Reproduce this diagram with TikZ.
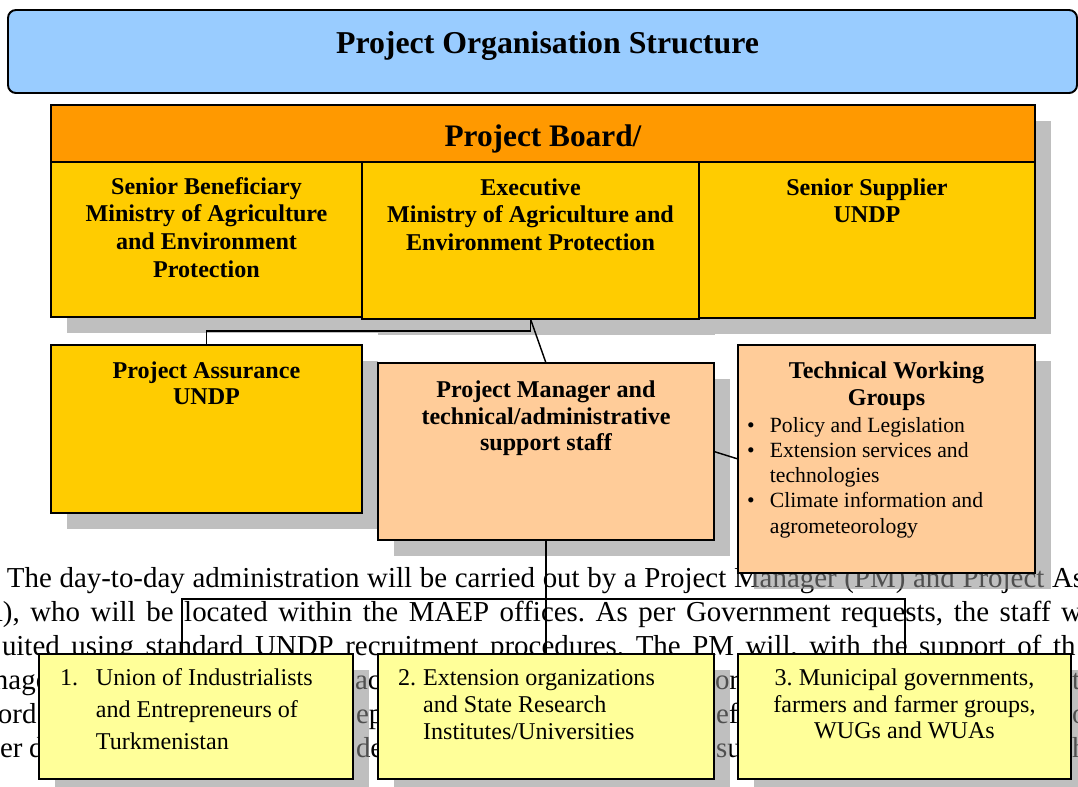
\documentclass[tikz,border=0pt]{standalone}
\usepackage{fontspec}
\setmainfont{Liberation Serif}
\usetikzlibrary{fit,calc}
\frenchspacing
\definecolor{titleblue}{HTML}{99CCFF}
\definecolor{boardorange}{HTML}{FF9900}
\definecolor{cellyellow}{HTML}{FFCC00}
\definecolor{peach}{HTML}{FFCC99}
\definecolor{paleyellow}{HTML}{FFFF99}
\definecolor{shadowgray}{RGB}{141,141,141}
\pgfdeclarelayer{para}
\pgfdeclarelayer{shade}
\pgfsetlayers{para,shade,main}
\tikzset{
  boxst/.style={draw=black, line width=0.8pt, inner sep=0pt, outer sep=0pt},
  shadowst/.style={fill=shadowgray, fill opacity=0.56},
  link/.style={draw=black, line width=0.6pt},
  txt/.style={inner sep=0pt, outer sep=0pt, anchor=base},
  ltxt/.style={inner sep=0pt, outer sep=0pt, anchor=base west},
  bodyfont/.style={font=\fontsize{12}{14}\selectfont}
}
% name, x1, y1, x2, y2, fill colour
\newcommand\orgbox[6]{%
  \begin{pgfonlayer}{shade}\fill[shadowst] (#2+16,#3+16) rectangle (#4+16,#5+16);\end{pgfonlayer}
  \node[boxst, fill=#6, fit={(#2,#3)(#4,#5)}] (#1) {};}
\newcommand\brk{\hfil\break}
\begin{document}
\begin{tikzpicture}[x=0.415pt, y=-0.415pt]
\useasboundingbox (0,0) rectangle (1078,786);

% ---------- background paragraph ----------
\begin{pgfonlayer}{para}
\fill[white] (0,0) rectangle (1078,786);
\node[ltxt, bodyfont] (p1) at (7,587) {\makebox[447pt][s]{The day-to-day administration will be carried out by a Project Manager (PM) and Project As}};
\node[ltxt, bodyfont] (p2) at (-18,621) {\makebox[456.5pt][s]{A), who will be located within the MAEP offices. As per Government requests, the staff w}};
\node[ltxt, bodyfont] (p3) at (2,655) {\makebox[445.5pt][s]{uited using standard UNDP recruitment procedures. The PM will, with the support of th}};
\node[ltxt, bodyfont] (p4a) at (-6,689) {nage};
\node[ltxt, bodyfont] (p4b) at (355,689) {ac};
\node[ltxt, bodyfont] (p4c) at (715,689) {or};
\node[ltxt, bodyfont] (p4d) at (1072,689) {t};
\node[ltxt, bodyfont] (p5a) at (-2,723) {ord};
\node[ltxt, bodyfont] (p5b) at (356,723) {ep};
\node[ltxt, bodyfont] (p5c) at (716,723) {efo};
\node[ltxt, bodyfont] (p5d) at (1072,723) {o};
\node[ltxt, bodyfont] (p6a) at (0,757) {er};
\node[ltxt, bodyfont] (p6b) at (29,757) {d};
\node[ltxt, bodyfont] (p6c) at (356,757) {de};
\node[ltxt, bodyfont] (p6d) at (716,757) {su};
\node[ltxt, bodyfont] (p6e) at (1072,757) {h};
\end{pgfonlayer}

% ---------- title ----------
\node[boxst, fill=titleblue, rounded corners=3.3pt, fit={(8,10)(1077,93)}] (title) {};
\node[txt] (titlet) at (547.5,53) {\fontsize{13.2}{15}\selectfont\bfseries Project Organisation Structure};

% ---------- project board ----------
\orgbox{board}{51}{105}{1035}{162}{boardorange}
\orgbox{sb}{51}{162}{362}{317}{cellyellow}
\orgbox{ss}{699}{162}{1035}{318}{cellyellow}
\orgbox{exec}{362}{162}{699}{319}{cellyellow}
\node[txt] (boardt) at (543,146) {\fontsize{13}{15}\selectfont\bfseries Project Board/};
\node[txt] (sbt) at (206.5,194) {\parbox[t]{128pt}{\centering\fontsize{10}{11.5}\selectfont\bfseries Senior Beneficiary\\Ministry of Agriculture\\and Environment\\Protection}};
\node[txt] (exect) at (530.5,195) {\parbox[t]{138pt}{\centering\fontsize{10}{11.6}\selectfont\bfseries Executive\\Ministry of Agriculture and\\Environment Protection}};
\node[txt] (sst) at (867,195) {\parbox[t]{138pt}{\centering\fontsize{10}{11.6}\selectfont\bfseries Senior Supplier\\UNDP}};

% ---------- middle row ----------
\orgbox{pa}{51}{345}{362}{513}{cellyellow}
\orgbox{pm}{378}{363}{714}{540}{peach}
\orgbox{twg}{738}{345}{1035}{573}{peach}
\node[txt] (pat) at (206.5,378) {\parbox[t]{128pt}{\centering\fontsize{10}{10.8}\selectfont\bfseries Project Assurance\\UNDP}};
\node[txt] (pmt) at (546,397) {\parbox[t]{138pt}{\centering\fontsize{10}{11.2}\selectfont\bfseries Project Manager and\\technical/administrative\\support staff}};
\node[txt] (twgt) at (886.5,378) {\parbox[t]{122pt}{\centering\fontsize{10}{11.2}\selectfont\bfseries Technical Working\\Groups}};
\node[ltxt] (twgl) at (747,432) {\parbox[t]{118pt}{\fontsize{9}{10.5}\selectfont
  \hangindent=9.5pt\hangafter=1\noindent\makebox[9.5pt][l]{\textbullet}Policy and Legislation\par
  \hangindent=9.5pt\hangafter=1\noindent\makebox[9.5pt][l]{\textbullet}Extension services and\brk technologies\par
  \hangindent=9.5pt\hangafter=1\noindent\makebox[9.5pt][l]{\textbullet}Climate information and\brk agrometeorology\par}};

% ---------- bottom row ----------
\orgbox{b1}{39}{654}{353}{779}{paleyellow}
\orgbox{b2}{378}{654}{714}{779}{paleyellow}
\orgbox{b3}{738}{654}{1071}{779}{paleyellow}
\node[ltxt] (b1t) at (60,685) {\parbox[t]{120pt}{\fontsize{10}{13.3}\selectfont
  \hangindent=14.9pt\hangafter=1\noindent\makebox[14.9pt][l]{1.}Union of Industrialists\brk and Entrepreneurs of\brk Turkmenistan\par}};
\node[ltxt] (b2t) at (398,685) {\parbox[t]{125pt}{\fontsize{10}{11.4}\selectfont
  \hangindent=10.4pt\hangafter=1\noindent\makebox[10.4pt][l]{2.}Extension organizations\brk and State Research\brk Institutes/Universities\par}};
\node[txt] (b3t) at (904.5,685) {\parbox[t]{135pt}{\centering\fontsize{10}{11.2}\selectfont 3. Municipal governments,\\farmers and farmer groups,\\WUGs and WUAs}};

% ---------- connectors ----------
\coordinate (paj) at (207,331);
\coordinate (busL) at (182,599);
\coordinate (busR) at (905,599);
\draw[link] (exec.south) |- (pa.north |- paj) -- (pa.north);
\draw[link] (exec.south) -- (pm.north);
\draw[link] (pm.east) -- (twg.west);
\draw[link] (pm.south) -- (b2.north);
\draw[link] (busL |- b1.north) -- (busL) -- (busR) -- (busR |- b3.north);
\end{tikzpicture}
\end{document}
